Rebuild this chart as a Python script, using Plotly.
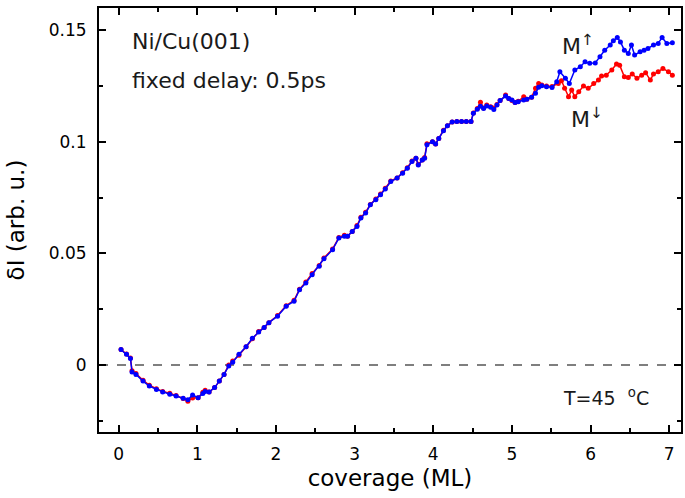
import plotly.graph_objects as go

# Magnetization-up branch (blue)
coverage_up = [0.03, 0.10, 0.15, 0.17, 0.22, 0.31, 0.39, 0.48, 0.56, 0.65, 0.73, 0.82, 0.88,
               0.94, 1.01, 1.07, 1.10, 1.15, 1.22, 1.28, 1.34, 1.40, 1.45, 1.53, 1.62, 1.70,
               1.78, 1.85, 1.91, 2.02, 2.13, 2.23, 2.30, 2.38, 2.46, 2.55, 2.61, 2.72, 2.80,
               2.87, 2.91, 2.97, 3.03, 3.08, 3.14, 3.20, 3.27, 3.33, 3.39, 3.46, 3.54, 3.61,
               3.67, 3.73, 3.78, 3.81, 3.86, 3.89, 3.92, 3.99, 4.03, 4.07, 4.13, 4.18, 4.24,
               4.30, 4.36, 4.42, 4.48, 4.51, 4.56, 4.60, 4.64, 4.68, 4.73, 4.77, 4.81, 4.85,
               4.92, 4.96, 5.00, 5.04, 5.08, 5.15, 5.19, 5.25, 5.30, 5.34, 5.38, 5.44, 5.51,
               5.57, 5.61, 5.68, 5.73, 5.80, 5.87, 5.93, 5.99, 6.06, 6.12, 6.18, 6.25, 6.29,
               6.34, 6.38, 6.43, 6.48, 6.52, 6.56, 6.63, 6.68, 6.73, 6.80, 6.86, 6.91, 6.97,
               7.04]
dI_up = [0.0070, 0.0048, 0.0029, -0.0031, -0.0042, -0.0072, -0.0094, -0.0109, -0.0121,
         -0.0131, -0.0139, -0.0149, -0.0156, -0.0134, -0.0146, -0.0128, -0.0118, -0.0121,
         -0.0101, -0.0072, -0.0042, -0.0004, 0.0013, 0.0048, 0.0082, 0.0120, 0.0148, 0.0168,
         0.0190, 0.0219, 0.0264, 0.0286, 0.0338, 0.0368, 0.0405, 0.0443, 0.0476, 0.0517,
         0.0569, 0.0577, 0.0577, 0.0599, 0.0621, 0.0659, 0.0681, 0.0718, 0.0741, 0.0763,
         0.0789, 0.0822, 0.0838, 0.0860, 0.0882, 0.0912, 0.0927, 0.0897, 0.0919, 0.0927,
         0.0987, 0.1001, 0.0991, 0.1015, 0.1050, 0.1072, 0.1089, 0.1091, 0.1091, 0.1091,
         0.1091, 0.1128, 0.1146, 0.1160, 0.1150, 0.1161, 0.1155, 0.1145, 0.1165, 0.1185,
         0.1206, 0.1195, 0.1188, 0.1176, 0.1180, 0.1188, 0.1191, 0.1200, 0.1218, 0.1245,
         0.1252, 0.1247, 0.1244, 0.1270, 0.1314, 0.1285, 0.1262, 0.1322, 0.1337, 0.1359,
         0.1352, 0.1354, 0.1381, 0.1411, 0.1434, 0.1453, 0.1468, 0.1448, 0.1411, 0.1396,
         0.1434, 0.1389, 0.1404, 0.1411, 0.1419, 0.1434, 0.1441, 0.1468, 0.1441, 0.1444]

# Magnetization-down branch (red)
coverage_down = [0.03, 0.10, 0.15, 0.17, 0.22, 0.31, 0.39, 0.48, 0.56, 0.65, 0.73, 0.82, 0.88,
                 0.94, 1.01, 1.07, 1.10, 1.15, 1.22, 1.28, 1.34, 1.40, 1.45, 1.53, 1.62, 1.70,
                 1.78, 1.85, 1.91, 2.02, 2.13, 2.23, 2.30, 2.38, 2.46, 2.55, 2.61, 2.72, 2.80,
                 2.87, 2.91, 2.97, 3.03, 3.08, 3.14, 3.20, 3.27, 3.33, 3.39, 3.46, 3.54, 3.61,
                 3.67, 3.73, 3.78, 3.81, 3.86, 3.89, 3.92, 3.99, 4.03, 4.07, 4.13, 4.18, 4.24,
                 4.30, 4.36, 4.42, 4.48, 4.51, 4.56, 4.60, 4.64, 4.68, 4.73, 4.77, 4.81, 4.85,
                 4.92, 4.96, 5.00, 5.04, 5.08, 5.15, 5.19, 5.25, 5.30, 5.34, 5.38, 5.44, 5.51,
                 5.59, 5.63, 5.67, 5.72, 5.76, 5.80, 5.85, 5.91, 5.97, 6.04, 6.10, 6.14, 6.20,
                 6.27, 6.33, 6.37, 6.43, 6.48, 6.53, 6.59, 6.65, 6.70, 6.76, 6.80, 6.86, 6.92,
                 6.99, 7.04]
dI_down = [0.0070, 0.0050, 0.0032, -0.0025, -0.0038, -0.0068, -0.0090, -0.0106, -0.0118,
           -0.0126, -0.0136, -0.0150, -0.0162, -0.0148, -0.0146, -0.0122, -0.0113, -0.0121,
           -0.0101, -0.0072, -0.0042, 0.0000, 0.0018, 0.0044, 0.0082, 0.0118, 0.0150, 0.0168,
           0.0190, 0.0222, 0.0266, 0.0290, 0.0340, 0.0372, 0.0410, 0.0446, 0.0480, 0.0520,
           0.0572, 0.0582, 0.0577, 0.0599, 0.0625, 0.0662, 0.0685, 0.0720, 0.0744, 0.0766,
           0.0792, 0.0825, 0.0838, 0.0862, 0.0884, 0.0914, 0.0927, 0.0900, 0.0919, 0.0930,
           0.0992, 0.1001, 0.0991, 0.1015, 0.1052, 0.1072, 0.1089, 0.1091, 0.1091, 0.1091,
           0.1091, 0.1130, 0.1150, 0.1178, 0.1152, 0.1165, 0.1158, 0.1152, 0.1168, 0.1185,
           0.1210, 0.1195, 0.1185, 0.1176, 0.1182, 0.1202, 0.1191, 0.1200, 0.1240, 0.1262,
           0.1255, 0.1250, 0.1248, 0.1262, 0.1274, 0.1240, 0.1202, 0.1232, 0.1202, 0.1225,
           0.1250, 0.1240, 0.1262, 0.1277, 0.1295, 0.1299, 0.1322, 0.1349, 0.1344, 0.1292,
           0.1289, 0.1304, 0.1285, 0.1299, 0.1310, 0.1277, 0.1304, 0.1314, 0.1329, 0.1314,
           0.1299]

x_ticks = [0, 1, 2, 3, 4, 5, 6, 7]
y_ticks = [0, 0.05, 0.1, 0.15]
y_tick_labels = ["0", "0.05", "0.1", "0.15"]

FONT = "DejaVu Sans, sans-serif"

fig = go.Figure()

# zero reference line
fig.add_shape(type="line", xref="paper", x0=0, x1=1, yref="y", y0=0, y1=0,
              line=dict(color="#555555", width=1.5, dash="dash"), layer="below")

fig.add_trace(go.Scatter(x=coverage_down, y=dI_down, mode="lines+markers",
                         line=dict(color="#ff0000", width=1.5),
                         marker=dict(color="#ff0000", size=5), name="M down"))
fig.add_trace(go.Scatter(x=coverage_up, y=dI_up, mode="lines+markers",
                         line=dict(color="#0000ff", width=1.5),
                         marker=dict(color="#0000ff", size=5), name="M up"))

axis_common = dict(showline=True, linecolor="black", linewidth=2, mirror="ticks",
                   ticks="inside", ticklen=7, tickwidth=1.5, tickcolor="black",
                   showgrid=False, zeroline=False,
                   tickfont=dict(family=FONT, size=17, color="black"))

fig.update_xaxes(range=[-0.25, 7.15], tickvals=x_ticks, ticklabelstandoff=6,
                 minor=dict(ticks="inside", ticklen=4, dtick=0.5, tick0=0,
                            tickcolor="black", tickwidth=1.5),
                 title=dict(text="coverage (ML)", font=dict(family=FONT, size=23, color="black"),
                            standoff=6),
                 **axis_common)
fig.update_yaxes(range=[-0.03, 0.16], tickvals=y_ticks, ticktext=y_tick_labels,
                 ticklabelstandoff=7,
                 minor=dict(ticks="inside", ticklen=4, dtick=0.025, tick0=0,
                            tickcolor="black", tickwidth=1.5),
                 title=dict(text="δI (arb. u.)", font=dict(family=FONT, size=23, color="black"),
                            standoff=18),
                 **axis_common)

text_font = dict(family=FONT, size=22, color="#1a1a1a")
fig.add_annotation(text="Ni/Cu(001)", xref="paper", yref="paper", x=0.053, y=0.92,
                   xanchor="left", yanchor="middle", showarrow=False, font=text_font)
fig.add_annotation(text="fixed delay: 0.5ps", xref="paper", yref="paper", x=0.053, y=0.83,
                   xanchor="left", yanchor="middle", showarrow=False, font=text_font)
fig.add_annotation(text="M<sup>↑</sup>", xref="x", yref="y", x=5.84, y=0.1435,
                   xanchor="center", yanchor="middle", showarrow=False,
                   font=dict(family=FONT, size=22, color="#1a1a1a"))
fig.add_annotation(text="M<sup>↓</sup>", xref="x", yref="y", x=5.95, y=0.1105,
                   xanchor="center", yanchor="middle", showarrow=False,
                   font=dict(family=FONT, size=22, color="#1a1a1a"))
fig.add_annotation(text="T=45\u00a0\u00a0<sup>o</sup>C", xref="paper", yref="paper",
                   x=0.794, y=0.083, xanchor="left", yanchor="middle", showarrow=False,
                   font=dict(family=FONT, size=19, color="#1a1a1a"))

fig.update_layout(width=685, height=498, margin=dict(l=99, r=2, t=8, b=66),
                  plot_bgcolor="white", paper_bgcolor="white", showlegend=False)

fig.write_html("out.html")
